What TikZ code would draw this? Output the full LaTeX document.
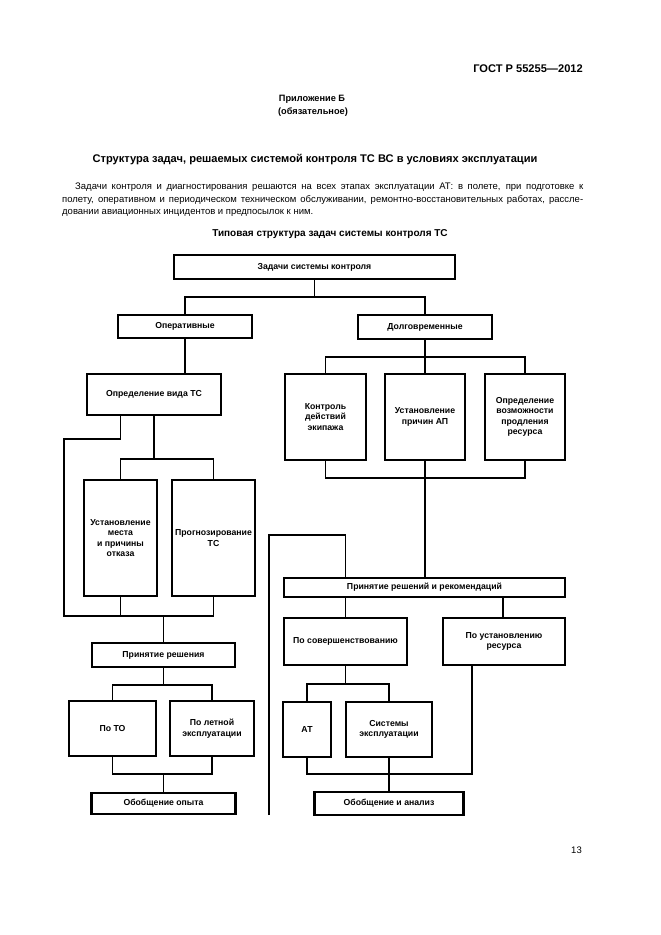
\documentclass[tikz,border=0pt]{standalone}
\usepackage{fontspec}
\setmainfont{Liberation Sans}
\begin{document}
\begin{tikzpicture}[x=1pt,y=-1pt,
	box/.style={draw, line width=2.4pt, align=center, inner sep=1pt,
		font=\fontsize{8.7}{10.5}\selectfont\bfseries},
	wh/.style 2 args={minimum width=#1pt, minimum height=#2pt},
	conn/.style={line width=1.8pt}]
	\useasboundingbox (0,0) rectangle (661,935);

	% Page text
	\node[anchor=base east, inner sep=0, font=\fontsize{11.1}{13}\selectfont\bfseries] (gost) at (583,72) {ГОСТ Р 55255—2012};
	\node[anchor=base, inner sep=0, font=\fontsize{9.2}{11}\selectfont\bfseries] (pril) at (312,101) {Приложение Б};
	\node[anchor=base, inner sep=0, font=\fontsize{9.2}{11}\selectfont\bfseries] (obyaz) at (313,114) {(обязательное)};
	\node[anchor=base, inner sep=0, font=\fontsize{11.1}{13}\selectfont\bfseries] (title) at (315,162) {Структура задач, решаемых системой контроля ТС ВС в условиях эксплуатации};
	\node[anchor=base west, inner sep=0, font=\fontsize{9.5}{12}\selectfont] (par1) at (75,189) {\hbox to 508pt{Задачи контроля и диагностирования решаются на всех этапах эксплуатации АТ: в полете, при подготовке к}};
	\node[anchor=base west, inner sep=0, font=\fontsize{9.5}{12}\selectfont] (par2) at (62,202) {\hbox to 521pt{полету, оперативном и периодическом техническом обслуживании, ремонтно-восстановительных работах, рассле-}};
	\node[anchor=base west, inner sep=0, font=\fontsize{9.5}{12}\selectfont] (par3) at (62,214) {довании авиационных инцидентов и предпосылок к ним.};
	\node[anchor=base, inner sep=0, font=\fontsize{10}{12}\selectfont\bfseries] (dtitle) at (330,236) {Типовая структура задач системы контроля ТС};
	\node[anchor=base east, inner sep=0, font=\fontsize{9.5}{11}\selectfont] (pageno) at (582,853) {13};

	% Top levels
	\node[box, wh={281}{24}] (top) at (314.5,267) {Задачи системы контроля};
	\node[box, wh={134}{23}] (oper) at (185,326.5) {Оперативные};
	\node[box, wh={134}{24}] (dolg) at (425,327) {Долговременные};

	% Long-term branch
	\node[box, wh={81}{86}] (kontr) at (325.5,417) {Контроль\\действий\\экипажа};
	\node[box, wh={80}{86}] (prich) at (425,417) {Установление\\причин АП};
	\node[box, wh={80}{86}] (resurs) at (525,417) {Определение\\возможности\\продления\\ресурса};
	\node[box, wh={281}{19}] (prinrec) at (424.5,587.5) {Принятие решений и рекомендаций};
	\node[box, wh={123}{47}] (sover) at (345.5,641.5) {По совершенствованию};
	\node[box, wh={122}{47}] (ustres) at (504,641.5) {По установлению\\ресурса};
	\node[box, wh={48}{55}] (at) at (307,729.5) {АТ};
	\node[box, wh={86}{55}] (sist) at (389,729.5) {Системы\\эксплуатации};
	\node[box, wh={149}{23}] (oban) at (389,803.5) {Обобщение и анализ};

	% Operative branch
	\node[box, wh={134}{41}] (vid) at (154,394.5) {Определение вида ТС};
	\node[box, wh={73}{116}] (mesto) at (120.5,538) {Установление\\места\\и причины\\отказа};
	\node[box, wh={83}{116}] (prog) at (213.5,538) {Прогнозирование\\ТС};
	\node[box, wh={143}{24}] (prin) at (163.5,655) {Принятие решения};
	\node[box, wh={87}{55}] (poto) at (112.5,728.5) {По ТО};
	\node[box, wh={84}{55}] (polet) at (212,728.5) {По летной\\эксплуатации};
	\node[box, wh={144}{21}] (obopyt) at (163.5,803.5) {Обобщение опыта};

	% Junctions
	\coordinate (j1) at (314.5,297);
	\coordinate (j2) at (425,357);
	\coordinate (j3) at (425,478);
	\coordinate (j4) at (345.5,684);
	\coordinate (j5) at (389,774);
	\coordinate (r1) at (472,774);
	\coordinate (fb1) at (269,815);
	\coordinate (fb2) at (345.5,535);
	\coordinate (j6) at (154,459);
	\coordinate (la) at (120.5,439);
	\coordinate (lb) at (64,616);
	\coordinate (j7) at (163.5,616);
	\coordinate (j8) at (163.5,685);
	\coordinate (j9) at (163.5,774);

	% Connectors
	\draw[conn] (top) -- (j1);
	\draw[conn] (oper.north) |- (j1) -| (dolg.north);
	\draw[conn] (oper.south) -- (oper.south |- vid.north);
	\draw[conn] (dolg.south) -- (prich.north);
	\draw[conn] (kontr.north) |- (j2) -| (resurs.north);
	\draw[conn] (kontr.south) |- (j3) -| (resurs.south);
	\draw[conn] (prich.south) -- (prich.south |- prinrec.north);
	\draw[conn] (fb1) |- (fb2) -- (fb2 |- prinrec.north);
	\draw[conn] (sover.north) -- (sover.north |- prinrec.south);
	\draw[conn] (ustres.north -| 503,0) -- (prinrec.south -| 503,0);
	\draw[conn] (sover.south) -- (j4);
	\draw[conn] (at.north) |- (j4) -| (sist.north);
	\draw[conn] (at.south) |- (r1) -- (r1 |- ustres.south);
	\draw[conn] (sist.south) -- (oban.north);

	\draw[conn] (vid.south) -- (j6);
	\draw[conn] (mesto.north) |- (j6) -| (prog.north);
	\draw[conn] (vid.south -| la) -- (la) -| (lb) -- (prog.south |- lb) -- (prog.south);
	\draw[conn] (mesto.south) -- (mesto.south |- lb);
	\draw[conn] (j7) -- (prin.north);
	\draw[conn] (prin.south) -- (j8);
	\draw[conn] (poto.north) |- (j8) -| (polet.north);
	\draw[conn] (poto.south) |- (j9) -| (polet.south);
	\draw[conn] (j9) -- (obopyt.north);
\end{tikzpicture}
\end{document}
